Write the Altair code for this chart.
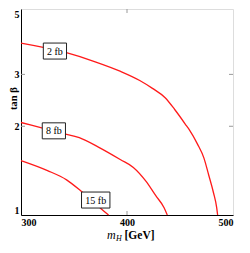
import altair as alt
import pandas as pd

# contour 2 fb
m_2fb = [300, 342, 370, 394, 412, 424, 436, 445, 456, 459, 466.5, 472.6, 477, 481.6, 484.6, 485.5]
tb_2fb = [3.83, 3.56, 3.31, 3.07, 2.86, 2.69, 2.50, 2.28, 2.01, 1.94, 1.74, 1.56, 1.37, 1.19, 1.06, 1.00]
# contour 8 fb
m_8fb = [300, 340, 355, 373, 394, 406, 418, 427, 435, 438]
tb_8fb = [2.06, 1.89, 1.83, 1.70, 1.54, 1.45, 1.30, 1.165, 1.058, 1.0]
# contour 15 fb
m_15fb = [300, 325, 343, 358, 378, 382.6]
tb_15fb = [1.53, 1.415, 1.316, 1.194, 1.032, 1.0]

label_text = ["2 fb", "8 fb", "15 fb"]
label_m = [332, 331, 370.5]
label_tb = [3.60, 1.93, 1.124]

x_ticks = [300, 400, 500]
y_ticks = [1, 2, 3, 5]
x_inner_ticks = [400]
y_inner_ticks = [2, 3]

W, H = 212, 206
SERIF = "Liberation Serif"

rows = []
for name, ms, ts in [("2 fb", m_2fb, tb_2fb), ("8 fb", m_8fb, tb_8fb), ("15 fb", m_15fb, tb_15fb)]:
    for m, t in zip(ms, ts):
        rows.append({"c": name, "m": m, "tb": t})
lines_df = pd.DataFrame(rows)
labels_df = pd.DataFrame({"label": label_text, "m": label_m, "tb": label_tb})

xs = alt.Scale(domain=[300, 500], nice=False, zero=False)
ys = alt.Scale(type="log", domain=[1, 5], nice=False)

xaxis = alt.Axis(values=x_ticks, format="d", title=None, ticks=False, tickSize=0,
                 grid=False, labelFont=SERIF, labelFontSize=10, labelFontWeight="bold",
                 labelColor="black", labelPadding=2, labelOverlap=False,
                 domainColor="black", domainWidth=1)
yaxis = alt.Axis(values=y_ticks, format="d", title="tan β", ticks=False, tickSize=0,
                 grid=False, labelFont=SERIF, labelFontSize=10, labelFontWeight="bold",
                 labelColor="black", labelPadding=2, labelFlush=True, labelOverlap=False,
                 domainColor="black", domainWidth=1,
                 titleFont=SERIF, titleFontSize=10.5, titleFontWeight="bold", titleColor="black",
                 titleAngle=270, titleX=-5, titleY=89, titleAlign="center",
                 titleBaseline="alphabetic")

lines = alt.Chart(lines_df).mark_line(color="#ff1a1a", strokeWidth=1.3, interpolate="monotone").encode(
    x=alt.X("m:Q", scale=xs, axis=xaxis),
    y=alt.Y("tb:Q", scale=ys, axis=yaxis),
    detail="c:N",
)

ydf = pd.DataFrame({"v": y_inner_ticks})
xdf = pd.DataFrame({"v": x_inner_ticks})
tick_color = "#999999"
yl = alt.Chart(ydf).mark_rule(color=tick_color, strokeWidth=1).encode(
    y=alt.Y("v:Q", scale=ys), x=alt.value(0), x2=alt.value(4))
yr = alt.Chart(ydf).mark_rule(color=tick_color, strokeWidth=1).encode(
    y=alt.Y("v:Q", scale=ys), x=alt.value(W - 4), x2=alt.value(W))
xb = alt.Chart(xdf).mark_rule(color=tick_color, strokeWidth=1).encode(
    x=alt.X("v:Q", scale=xs), y=alt.value(H - 4), y2=alt.value(H))
xt = alt.Chart(xdf).mark_rule(color=tick_color, strokeWidth=1).encode(
    x=alt.X("v:Q", scale=xs), y=alt.value(0), y2=alt.value(4))

boxes = alt.Chart(labels_df).transform_calculate(
    shp="length(datum.label) > 4 ? 'M-3.55,-2L3.55,-2L3.55,2L-3.55,2Z' : 'M-2.9,-2L2.9,-2L2.9,2L-2.9,2Z'"
).mark_point(filled=True, fill="white", stroke="#222222", strokeWidth=1, size=64, opacity=1,
             fillOpacity=1, strokeOpacity=1).encode(
    x=alt.X("m:Q", scale=xs), y=alt.Y("tb:Q", scale=ys),
    shape=alt.Shape("shp:N", scale=None),
)
texts = alt.Chart(labels_df).mark_text(font=SERIF, fontSize=10, color="black",
                                       align="center", baseline="middle", dy=0.5).encode(
    x=alt.X("m:Q", scale=xs), y=alt.Y("tb:Q", scale=ys), text="label:N")

tdf = pd.DataFrame({"a": [0]})
TY = 230
t_m = alt.Chart(tdf).mark_text(font=SERIF, fontSize=12, fontStyle="italic", color="black",
                               align="left", baseline="alphabetic").encode(
    x=alt.value(W / 2 - 20), y=alt.value(TY), text=alt.value("m"))
t_h = alt.Chart(tdf).mark_text(font=SERIF, fontSize=8, fontStyle="italic", color="black",
                               align="left", baseline="alphabetic").encode(
    x=alt.value(W / 2 - 11), y=alt.value(TY + 2), text=alt.value("H"))
t_g = alt.Chart(tdf).mark_text(font=SERIF, fontSize=11.5, fontWeight="bold", color="black",
                               align="left", baseline="alphabetic").encode(
    x=alt.value(W / 2 - 2.5), y=alt.value(TY), text=alt.value("[GeV]"))

chart = alt.layer(lines, yl, yr, xb, xt, boxes, texts, t_m, t_h, t_g).properties(
    width=W, height=H,
    padding={"left": 13, "top": 1, "right": 9, "bottom": 27},
    autosize=alt.AutoSizeParams(type="none"),
).configure_view(stroke="#8c8c8c", strokeWidth=1).configure(background="white")

chart.save("out.html", embed_options={"renderer": "svg", "actions": False})
